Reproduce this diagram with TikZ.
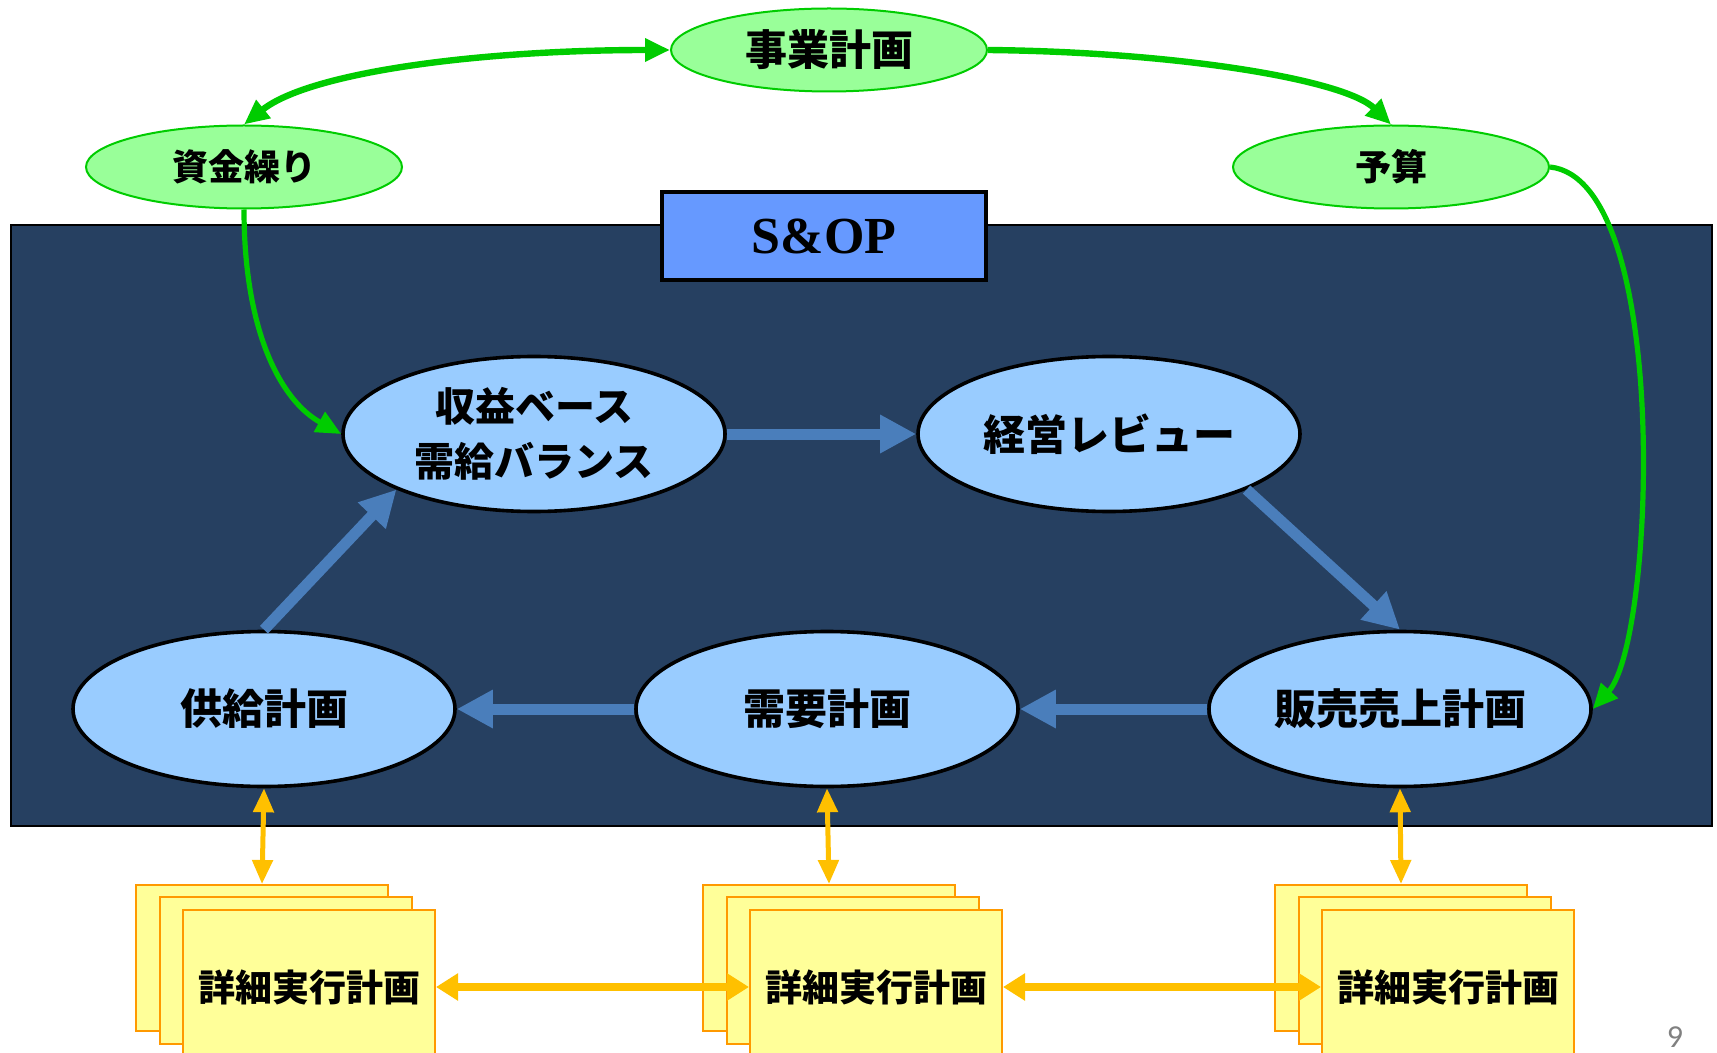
\documentclass[tikz,border=0pt]{standalone}
\usepackage{fontspec}
\setmainfont{Liberation Serif}
\newfontfamily\jp{Noto Sans CJK JP}
\newfontfamily\pagefont{Carlito}
\usetikzlibrary{arrows.meta,shapes.geometric}
\definecolor{panelc}{HTML}{264061}
\definecolor{sopc}{HTML}{6699FF}
\definecolor{bfill}{HTML}{99CCFF}
\definecolor{barrowc}{HTML}{4A7EBB}
\definecolor{gfill}{HTML}{99FF99}
\definecolor{gline}{HTML}{00CC00}
\definecolor{yc}{HTML}{FFC000}
\definecolor{yfill}{HTML}{FFFF99}
\definecolor{orangec}{HTML}{FF9900}
\tikzset{
 greenell/.style={ellipse, draw=gline, fill=gfill, line width=1pt, minimum width=158pt, minimum height=41.5pt, inner sep=0pt, font=\jp\bfseries\fontsize{18}{20}\selectfont},
 blueell/.style={ellipse, draw=black, line width=1.8pt, fill=bfill, minimum width=191pt, minimum height=77.5pt, inner sep=0pt, align=center, font=\jp\bfseries\fontsize{21}{27.5}\selectfont},
 barrow/.style={line width=5.5pt, draw=barrowc, -{Triangle[length=18pt,width=18pt]}},
 yvarrow/.style={draw=yc, line width=2.5pt, {Triangle[length=12pt,width=10pt]}-{Triangle[length=12pt,width=10pt]}},
 yharrow/.style={draw=yc, line width=4pt, {Triangle[length=11pt,width=13pt]}-{Triangle[length=11pt,width=13pt]}},
 garrow/.style={draw=gline, line width=2.6pt, -{Triangle[length=12.5pt,width=11pt]}},
 gtop/.style={draw=gline, line width=3.2pt},
 detail/.style={draw=orangec, fill=yfill, line width=1pt, minimum width=126pt, inner sep=0pt},
 dtext/.style={font=\jp\bfseries\fontsize{18.5}{20}\selectfont, inner sep=0pt},
}
\begin{document}
\begin{tikzpicture}[x=0.5pt,y=-0.5pt]
\clip (0,0) rectangle (1717,1053);
\useasboundingbox (0,0) rectangle (1717,1053);

% panel
\node[draw=black, line width=0.8pt, fill=panelc, minimum width=850.5pt, minimum height=300.5pt, inner sep=0pt] (panel) at (861.5,525.5) {};
\node[draw=black, line width=2pt, fill=sopc, minimum width=162pt, minimum height=44pt, inner sep=0pt, font=\bfseries\fontsize{26}{28}\selectfont] (sop) at (824,236) {S\&OP};

% green ellipses
\node[greenell, font=\jp\bfseries\fontsize{21}{23}\selectfont] (biz) at (829,50) {事業計画};
\node[greenell] (fund) at (244,167) {資金繰り};
\node[greenell] (budget) at (1391,167) {予算};

% blue ellipses
\node[blueell, font=\jp\bfseries\fontsize{20}{27.5}\selectfont] (profit) at (534,434) {収益ベース\\需給バランス};
\node[blueell] (review) at (1109,434) {経営レビュー};
\node[blueell] (supply) at (264,709) {供給計画};
\node[blueell] (demand) at (827,709) {需要計画};
\node[blueell] (sales) at (1400,709) {販売売上計画};

% blue arrows
\draw[barrow] (profit.east) -- (review.west);
\draw[barrow] (review.338.7) -- (sales.north);
\draw[barrow] (sales.west) -- (demand.east);
\draw[barrow] (demand.west) -- (supply.east);
\draw[barrow] (supply.north) -- (profit.202.5);

% green connectors
\draw[gtop, {Triangle[length=12.5pt,width=11pt]}-{Triangle[length=12.5pt,width=11pt]}]
  (fund.north) .. controls (310,72) and (480,50) .. (biz.west);
\draw[gtop, -{Triangle[length=12.5pt,width=11pt]}]
  (biz.east) .. controls (1180,52) and (1345,80) .. (budget.north);
\draw[garrow] (fund.south) .. controls (244,330) and (280,400) .. (profit.west);
\draw[garrow] (budget.east) .. controls (1672,180) and (1655,640) .. (sales.east);

% detail stacks
\foreach \i/\dx in {1/0,2/567,3/1139}{
  \node[detail, minimum height=73pt] (back\i) at (262+\dx,958) {};
  \node[detail, minimum height=73.5pt] (mid\i) at (286+\dx,970.5) {};
  \node[detail, minimum height=95pt] (front\i) at (309+\dx,1005) {};
  \node[dtext] (dtext\i) at (309+\dx,987) {詳細実行計画};
}

% yellow arrows
\draw[yvarrow] (supply.south) -- (back1.north);
\draw[yvarrow] (demand.south) -- (back2.north);
\draw[yvarrow] (sales.south) -- (back3.north);
\draw[yharrow] (dtext1 -| front1.east) -- (dtext2 -| front2.west);
\draw[yharrow] (dtext2 -| front2.east) -- (dtext3 -| front3.west);

\node[font=\pagefont\fontsize{16}{18}\selectfont, text=gray, inner sep=0pt] (pg) at (1675,1037) {9};
\end{tikzpicture}
\end{document}
